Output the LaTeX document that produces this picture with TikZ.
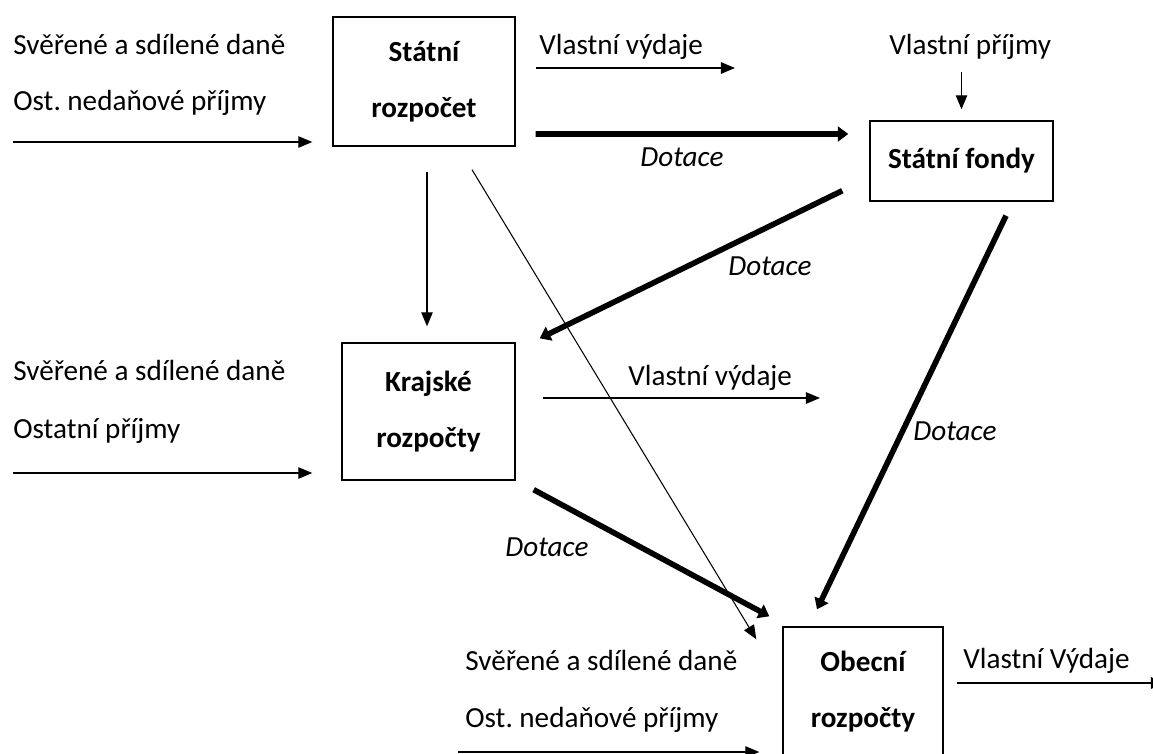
\documentclass[tikz,border=0pt]{standalone}
\usepackage{fontspec}
\setmainfont{Carlito}
\usetikzlibrary{arrows.meta, calc}

\tikzset{
  box/.style={draw, line width=0.8pt, inner sep=0pt, align=center,
              font=\fontsize{16.6}{32}\selectfont\bfseries},
  txt/.style={anchor=base west, inner sep=0pt, font=\fontsize{16.6}{20}\selectfont},
  dlbl/.style={txt, font=\fontsize{16.6}{20}\selectfont\itshape},
  flow/.style={-{Triangle[length=8pt,width=6.5pt]}, line width=0.8pt},
  dot/.style={-{Triangle[length=6pt,width=8.5pt]}, line width=3.2pt}
}

\begin{document}
\begin{tikzpicture}[x=0.02cm, y=-0.02cm]
\clip (0,0) rectangle (1153,754);
% rozpocty
\node[box, minimum width=3.64cm, minimum height=2.58cm] (sr) at (424,81.5) {Státní\\rozpočet};
\node[box, minimum width=3.66cm, minimum height=1.6cm] (sf) at (961.5,161) {Státní fondy};
\node[box, minimum width=3.46cm, minimum height=2.74cm] (kr) at (428.5,411.5) {Krajské\\rozpočty};
\node[box, minimum width=3.2cm, minimum height=2.58cm] (ob) at (863,691.5) {Obecní\\rozpočty};

% prijmy a vydaje
\node[txt] (srin1) at (13,54) {Svěřené a sdílené daně};
\node[txt] (srin2) at (13,110) {Ost.\ nedaňové příjmy};
\node[txt] (srout) at (539,54) {Vlastní výdaje};
\node[txt] (sfin) at (889,54) {Vlastní příjmy};
\node[txt] (krin1) at (13,380) {Svěřené a sdílené daně};
\node[txt] (krin2) at (13,438) {Ostatní příjmy};
\node[txt] (krout) at (628,385) {Vlastní výdaje};
\node[txt] (obin1) at (465,670) {Svěřené a sdílené daně};
\node[txt] (obin2) at (465,727) {Ost.\ nedaňové příjmy};
\node[txt] (obout) at (963,668) {Vlastní Výdaje};

\node[dlbl] (dsf) at (640,166) {Dotace};
\node[dlbl] (dkr) at (728,275) {Dotace};
\node[dlbl] (dob) at (913,440) {Dotace};
\node[dlbl] (dkrob) at (505,556) {Dotace};

\coordinate (srin) at (13,142);
\coordinate (krin) at (13,473);
\coordinate (obin) at (458,752);
\coordinate (sroutend) at (735,68);
\coordinate (kroutend) at (820,398);
\coordinate (oboutend) at (1165,683);

\draw[flow] (srin) -- ($(srin -| sr.west)+(-20,0)$);
\draw[flow] (krin) -- ($(krin -| kr.west)+(-29,0)$);
\draw[flow] (obin) -- ($(obin -| ob.west)+(-23,0)$);
\draw[flow] ($(sroutend -| sr.east)+(20,0)$) -- (sroutend);
\draw[flow] ($(kroutend -| kr.east)+(27,0)$) -- (kroutend);
\draw[flow] ($(oboutend -| ob.east)+(13,0)$) -- (oboutend);
\draw[flow] ($(sf.north |- sfin.south)+(0,13)$) -- ($(sf.north)+(0,-11)$);

\draw[flow] ($(sr.south)+(3,25)$) -- ($(kr.north)+(-1.5,-16)$);
\draw[-{Triangle[length=8pt,width=6.5pt]}, line width=0.6pt]
    ($(sr.south)+(48,23)$) -- ($(ob.north west)+(-26,13)$);

% dotace
\draw[dot] ($(sr.east)+(20,52.5)$) -- ($(sf.west)+(-21,-27)$);
\draw[dot] ($(sf.south west)+(-27,-11)$) -- ($(kr.north east)+(24,-4)$);
\draw[dot] ($(sf.south)+(44.5,14)$) -- ($(ob.north)+(-46,-17)$);
\draw[dot] ($(kr.south east)+(18,9)$) -- ($(ob.north west)+(-13,-10)$);
\end{tikzpicture}
\end{document}
